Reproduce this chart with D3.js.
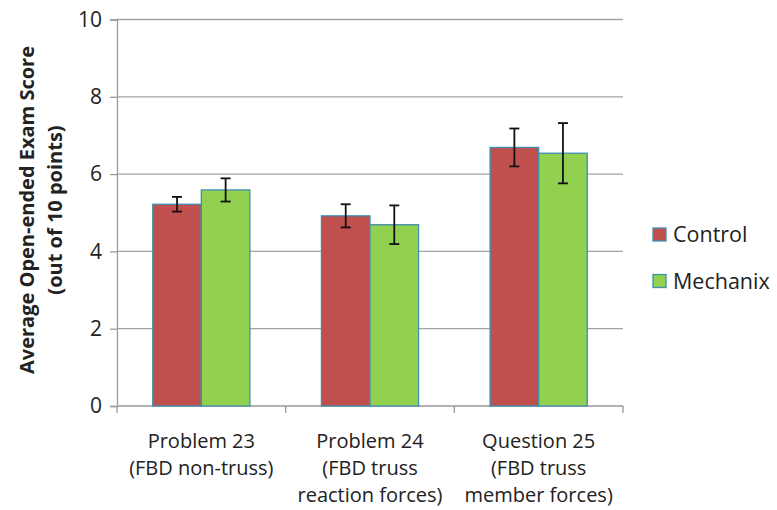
<!DOCTYPE html>
<html>
<head>
<meta charset="utf-8">
<script src="https://cdn.jsdelivr.net/npm/d3@7"></script>
<style>
  html, body { margin: 0; padding: 0; background: #fff; }
  svg { display: block; font-family: "Open Sans", "Noto Sans", sans-serif; }
</style>
</head>
<body>
<svg id="chart" width="777" height="510"></svg>
<script>
// Exam questions (two or three label lines each)
const categories = ["Problem 23", "Problem 24", "Question 25"];
const categoryLines = [
  ["Problem 23", "(FBD non-truss)"],
  ["Problem 24", "(FBD truss", "reaction forces)"],
  ["Question 25", "(FBD truss", "member forces)"]
];
const seriesNames = ["Control", "Mechanix"];
const controlMeans = [5.22, 4.92, 6.69];
const controlErr = [0.19, 0.30, 0.49];
const mechanixMeans = [5.59, 4.69, 6.54];
const mechanixErr = [0.30, 0.50, 0.78];
const yTicks = [0, 2, 4, 6, 8, 10];

const colors = { Control: "#C0504D", Mechanix: "#92D050" };

const data = categories.map((c, i) => ({
  category: c,
  values: [
    { series: "Control", mean: controlMeans[i], err: controlErr[i] },
    { series: "Mechanix", mean: mechanixMeans[i], err: mechanixErr[i] }
  ]
}));

const svg = d3.select("#chart");
const plotLeft = 117, plotRight = 623, plotTop = 19.5, plotBottom = 406;

const x = d3.scaleBand().domain(categories).range([plotLeft, plotRight]).padding(0);
const xs = d3.scaleBand().domain(seriesNames)
  .range([x.bandwidth() * 0.212, x.bandwidth() * 0.788]).padding(0);
const y = d3.scaleLinear().domain([0, 10]).range([plotBottom, plotTop]);

// Horizontal gridlines
svg.append("g")
  .selectAll("line")
  .data(yTicks.filter(t => t > 0))
  .join("line")
  .attr("x1", plotLeft).attr("x2", plotRight)
  .attr("y1", d => y(d)).attr("y2", d => y(d))
  .attr("stroke", "#a3a3a3").attr("stroke-width", 1.3);

// Y axis
const yAxis = svg.append("g")
  .attr("transform", `translate(${plotLeft},0)`)
  .call(d3.axisLeft(y).tickValues(yTicks).tickSize(7).tickPadding(8));
yAxis.select(".domain").attr("stroke", "#999").attr("stroke-width", 1.3);
yAxis.selectAll(".tick line").attr("stroke", "#999").attr("stroke-width", 1.3);
yAxis.selectAll(".tick text")
  .attr("fill", "#222").style("font-size", "21px")
  .style("font-family", "'Open Sans', sans-serif");

// X axis baseline and category boundary ticks
const xAxis = svg.append("g").attr("transform", `translate(0,${plotBottom})`);
xAxis.append("line").attr("x1", plotLeft).attr("x2", plotRight)
  .attr("stroke", "#999").attr("stroke-width", 1.3);
const bounds = categories.map(c => x(c)).concat([x(categories[categories.length - 1]) + x.bandwidth()]);
xAxis.selectAll("line.tk").data(bounds).join("line").attr("class", "tk")
  .attr("x1", d => d).attr("x2", d => d).attr("y1", 0).attr("y2", 7)
  .attr("stroke", "#999").attr("stroke-width", 1.3);

// Bars
const groups = svg.append("g").selectAll("g")
  .data(data).join("g")
  .attr("transform", d => `translate(${x(d.category)},0)`);

groups.selectAll("rect")
  .data(d => d.values).join("rect")
  .attr("x", d => xs(d.series))
  .attr("width", xs.bandwidth())
  .attr("y", d => y(d.mean))
  .attr("height", d => y(0) - y(d.mean))
  .attr("fill", d => colors[d.series])
  .attr("stroke", "#3f8fb0").attr("stroke-width", 1.3);

// Error bars
const eb = groups.selectAll("g.err")
  .data(d => d.values).join("g").attr("class", "err")
  .attr("transform", d => `translate(${xs(d.series) + xs.bandwidth() / 2},0)`);
eb.append("line")
  .attr("y1", d => y(d.mean + d.err)).attr("y2", d => y(d.mean - d.err))
  .attr("stroke", "#111").attr("stroke-width", 1.8);
eb.append("line")
  .attr("x1", -5).attr("x2", 5)
  .attr("y1", d => y(d.mean + d.err)).attr("y2", d => y(d.mean + d.err))
  .attr("stroke", "#111").attr("stroke-width", 1.8);
eb.append("line")
  .attr("x1", -5).attr("x2", 5)
  .attr("y1", d => y(d.mean - d.err)).attr("y2", d => y(d.mean - d.err))
  .attr("stroke", "#111").attr("stroke-width", 1.8);

// Category labels
const lab = svg.append("g").selectAll("text")
  .data(categoryLines).join("text")
  .attr("text-anchor", "middle")
  .attr("fill", "#222")
  .style("font-size", "20px")
  .attr("x", (d, i) => x(categories[i]) + x.bandwidth() / 2);
lab.selectAll("tspan").data(d => d).join("tspan")
  .attr("x", function () { return this.parentNode.getAttribute("x"); })
  .attr("y", (d, i) => 448 + i * 27)
  .text(d => d);

// Y axis title
const title = svg.append("text")
  .attr("transform", "translate(0,210) rotate(-90)")
  .attr("text-anchor", "middle")
  .attr("fill", "#222")
  .style("font-size", "20px").style("font-weight", "bold");
title.append("tspan").attr("x", 0).attr("y", 34).text("Average Open-ended Exam Score");
title.append("tspan").attr("x", 0).attr("y", 62).text("(out of 10 points)");

// Legend
const legend = svg.append("g").selectAll("g")
  .data(seriesNames).join("g")
  .attr("transform", (d, i) => `translate(653,${228 + i * 46.5})`);
legend.append("rect")
  .attr("width", 13).attr("height", 13)
  .attr("fill", d => colors[d])
  .attr("stroke", "#3f8fb0").attr("stroke-width", 1.3);
legend.append("text")
  .attr("x", 20).attr("y", 14)
  .attr("fill", "#222")
  .style("font-size", "21.5px")
  .text(d => d);
</script>
</body>
</html>
